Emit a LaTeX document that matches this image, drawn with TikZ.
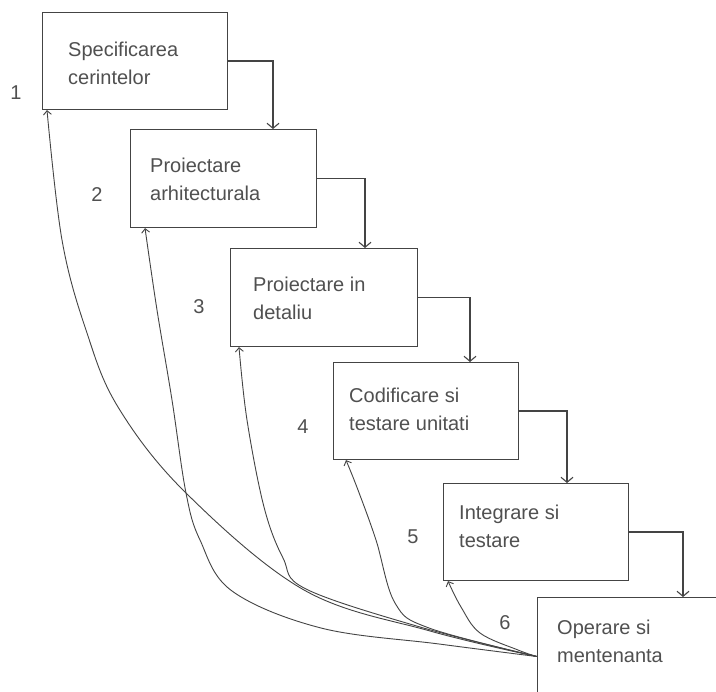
\documentclass[tikz,border=0pt]{standalone}
\usepackage{fontspec}
\setmainfont{Liberation Sans}
\usetikzlibrary{arrows.meta,calc}
\definecolor{ink}{HTML}{444444}
\definecolor{lettering}{HTML}{505050}
\begin{document}
\begin{tikzpicture}[x=1pt,y=-1pt,
  phase/.style={draw=ink, line width=1.1pt, rectangle, inner sep=0pt,
    minimum width=185pt, minimum height=97pt, anchor=north west},
  caption/.style={text=lettering, anchor=north west, align=left, inner sep=0pt,
    font=\fontsize{20}{27.5}\selectfont},
  num/.style={text=lettering, inner sep=0pt, font=\fontsize{20}{24}\selectfont},
  stepline/.style={draw=ink, line width=1.1pt, -{Straight Barb[length=5pt,width=12pt]}},
  backline/.style={draw=ink, line width=0.9pt, -{Straight Barb[length=4pt,width=8pt]}}]
\clip (0,0) rectangle (716,692);
\fill[white] (0,0) rectangle (716,692);

% phases of the cascade
\node[phase] (b1) at (42,12) {};
\node[phase, minimum width=186pt, minimum height=98pt] (b2) at (130,129) {};
\node[phase, minimum width=187pt, minimum height=98pt] (b3) at (230,248) {};
\node[phase] (b4) at (333,362) {};
\node[phase] (b5) at (443,483) {};
\node[phase, minimum width=190pt, minimum height=118pt] (b6) at (537,597) {};

% phase titles
\node[caption] (t1) at (68,42) {Specificarea\\cerintelor};
\node[caption] (t2) at (150,158) {Proiectare\\arhitecturala};
\node[caption] (t3) at (253,277) {Proiectare in\\detaliu};
\node[caption] (t4) at (349,388) {Codificare si\\testare unitati};
\node[caption] (t5) at (459,505) {Integrare si\\testare};
\node[caption] (t6) at (557,620) {Operare si\\mentenanta};

% phase numbers
\node[num] (n1) at (16,93) {1};
\node[num] (n2) at (97,195) {2};
\node[num] (n3) at (199,307) {3};
\node[num] (n4) at (303,427) {4};
\node[num] (n5) at (413,537) {5};
\node[num] (n6) at (505,623) {6};

% forward steps
\draw[stepline] (b1.east) -| ($(b2.north west)+(143,0)$);
\draw[stepline] (b2.east) -| ($(b3.north west)+(135,0)$);
\draw[stepline] (b3.east) -| ($(b4.north west)+(137,0)$);
\draw[stepline] (b4.east) -| ($(b5.north west)+(124,0)$);
\draw[stepline] (b5.east) -| ($(b6.north west)+(146,0)$);

% feedback from operation back to every phase
\coordinate (s) at (b6.west);
\coordinate (e1) at ($(b1.south west)+(5,0)$);
\coordinate (e2) at ($(b2.south west)+(15,0)$);
\coordinate (e3) at ($(b3.south west)+(9,0)$);
\coordinate (e4) at ($(b4.south west)+(13,0)$);
\coordinate (e5) at ($(b5.south west)+(5,0)$);

\draw[backline] plot[smooth, tension=0.6] coordinates
  {(s) (430,631) (304,590) (186,493) (118,407) (86,330) (62,240) (e1)};
\draw[backline] plot[smooth, tension=0.6] coordinates
  {(s) (439,644) (321,628) (232,591) (200,540) (186,493) (172,400) (157,310) (e2)};
\draw[backline] plot[smooth, tension=0.6] coordinates
  {(s) (420,627) (306,589) (283,558) (264,507) (247,420) (e3)};
\draw[backline] plot[smooth, tension=0.6] coordinates
  {(s) (429,628) (395,603) (376,540) (358,490) (e4)};
\draw[backline] plot[smooth, tension=0.6] coordinates
  {(s) (518,650) (480,633) (461,607) (e5)};
\end{tikzpicture}
\end{document}
